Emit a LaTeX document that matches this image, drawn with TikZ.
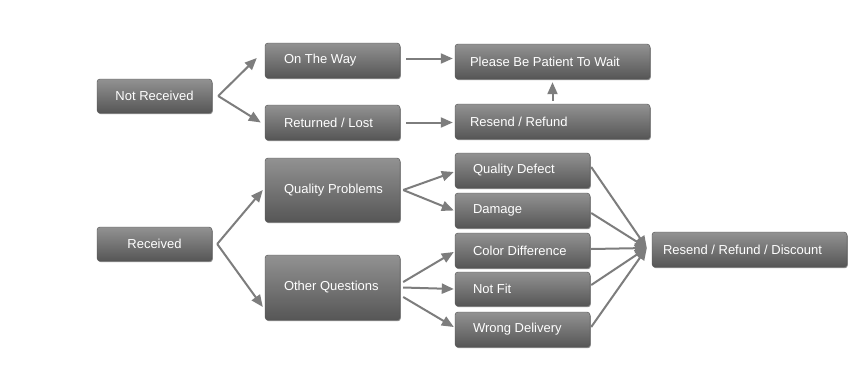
\documentclass[tikz,border=0pt]{standalone}
\usepackage{fontspec}
\setmainfont{Liberation Sans}
\usetikzlibrary{arrows.meta,shadows,positioning}
\definecolor{boxtop}{RGB}{146,146,146}
\definecolor{boxbot}{RGB}{86,86,86}
\definecolor{boxedge}{RGB}{80,80,80}
\definecolor{arrgray}{RGB}{125,125,125}
\tikzset{
  box/.style n args={3}{draw=boxedge, line width=0.4pt, rounded corners=3pt,
    top color=boxtop, bottom color=boxbot, text=white,
    font=\fontsize{13}{15}\selectfont,
    minimum width=#1, minimum height=#2,
    text width=#1, inner xsep=0pt, inner ysep=0pt, align=flush left,
    execute at begin node={\hspace*{#3}},
    drop shadow={shadow xshift=0.8pt, shadow yshift=-1.2pt, opacity=0.45, fill=black}},
  cbox/.style 2 args={draw=boxedge, line width=0.4pt, rounded corners=3pt,
    top color=boxtop, bottom color=boxbot, text=white,
    font=\fontsize{13}{15}\selectfont,
    minimum width=#1, minimum height=#2, inner sep=0pt, align=center,
    drop shadow={shadow xshift=0.8pt, shadow yshift=-1.2pt, opacity=0.45, fill=black}},
  arr/.style={draw=arrgray, line width=2pt, -{Triangle[length=12pt,width=10pt]}, arrgray}
}
\begin{document}
\begin{tikzpicture}[x=1pt,y=-1pt]
\useasboundingbox (0,0) rectangle (860,370);
\fill[white] (0,0) rectangle (860,370);
% nodes
\node[cbox={115pt}{34pt}] (nr) at (154.5,96) {Not Received};
\node[box={135pt}{35pt}{19pt}] (otw) at (332.5,60.5) {On The Way};
\node[box={135pt}{35pt}{19pt}] (rl) at (332.5,122.5) {Returned / Lost};
\node[box={195pt}{35pt}{15pt}] (pw) at (552.5,61.5) {Please Be Patient To Wait};
\node[box={195pt}{35pt}{15pt}] (rr) at (552.5,121.5) {Resend / Refund};
\node[cbox={115pt}{34pt}] (rec) at (154.5,244) {Received};
\node[box={135pt}{64pt}{19pt}] (qp) at (332.5,190) {Quality Problems};
\node[box={135pt}{65pt}{19pt}] (oq) at (332.5,287.5) {Other Questions};
\node[box={135pt}{35pt}{18pt}] (qd) at (522.5,170.5) {Quality Defect};
\node[box={135pt}{35pt}{18pt}] (dm) at (522.5,210.5) {Damage};
\node[box={135pt}{35pt}{18pt}] (cd) at (522.5,250.5) {Color Difference};
\node[box={135pt}{34pt}{18pt}] (nf) at (522.5,289) {Not Fit};
\node[box={135pt}{35pt}{18pt}] (wd) at (522.5,329.5) {Wrong Delivery};
\node[box={195pt}{35pt}{11pt}] (rrd) at (749.5,249.5) {Resend / Refund / Discount};
% connectors
\coordinate (nrs) at ([xshift=6pt]nr.east);
\draw[arr] (nrs) -- ([xshift=-8pt,yshift=2.5pt]otw.west);
\draw[arr] (nrs) -- ([xshift=-4pt]rl.west);
\draw[arr] ([xshift=6pt,yshift=2pt]otw.east) -- ([xshift=-2pt,yshift=2pt]otw.east -| pw.west);
\draw[arr] ([xshift=6pt]rl.east) -- ([xshift=-2pt]rl.east -| pw.west);
\draw[arr] ([yshift=3pt]rr.north) -- ([yshift=-3pt]pw.south);
\coordinate (recs) at ([xshift=5pt]rec.east);
\draw[arr] (recs) -- ([xshift=-2pt]qp.west);
\draw[arr] (recs) -- ([xshift=-2pt,yshift=-19.5pt]oq.west);
\coordinate (qps) at ([xshift=3pt]qp.east);
\draw[arr] (qps) -- ([xshift=-1pt,yshift=-1.5pt]qd.west);
\draw[arr] (qps) -- ([xshift=-1pt]dm.west);
\draw[arr] ([xshift=3pt,yshift=5.5pt]oq.east) -- ([xshift=-1pt,yshift=-1.5pt]cd.west);
\draw[arr] ([xshift=3pt]oq.east) -- ([xshift=-1pt]nf.west);
\draw[arr] ([xshift=3pt,yshift=-9.5pt]oq.east) -- ([xshift=-1pt,yshift=2.5pt]wd.west);
\coordinate (rrdt) at ([xshift=-5pt,yshift=1.5pt]rrd.west);
\draw[arr] ([xshift=1pt,yshift=3.5pt]qd.east) -- (rrdt);
\draw[arr] ([xshift=1pt,yshift=-2.5pt]dm.east) -- (rrdt);
\draw[arr] ([xshift=1pt,yshift=1.5pt]cd.east) -- (rrdt);
\draw[arr] ([xshift=1pt,yshift=4pt]nf.east) -- (rrdt);
\draw[arr] ([xshift=1pt,yshift=2.5pt]wd.east) -- (rrdt);
\end{tikzpicture}
\end{document}
